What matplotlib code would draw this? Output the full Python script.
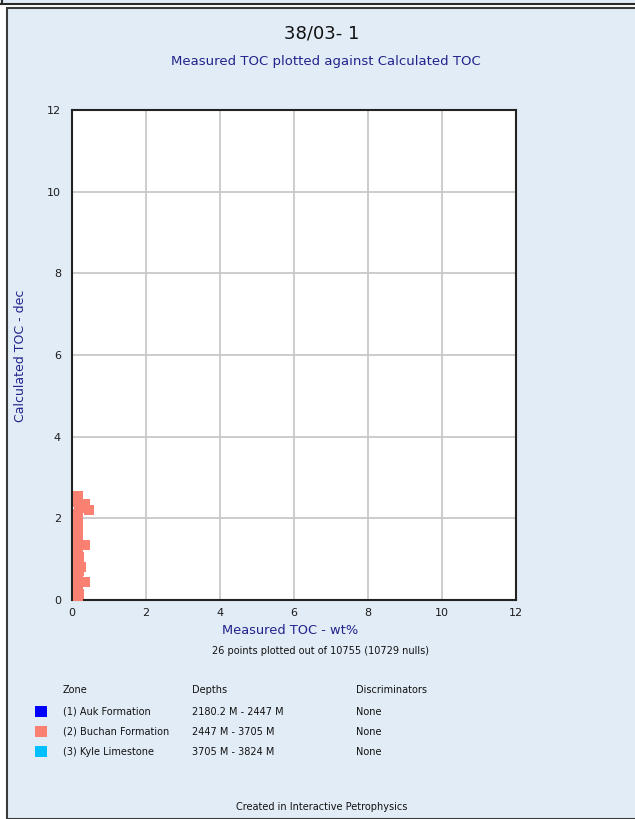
import matplotlib.pyplot as plt
from matplotlib.patches import Rectangle
from matplotlib.lines import Line2D

# data
measured_toc = [0.15, 0.15, 0.35, 0.45, 0.2, 0.15, 0.15, 0.15, 0.15, 0.15,
                0.35, 0.15, 0.15, 0.2, 0.15, 0.25, 0.2, 0.15, 0.35, 0.15,
                0.15, 0.2, 0.15, 0.15, 0.15, 0.15]
calc_toc = [2.5, 2.4, 2.35, 2.2, 2.25, 2.1, 2.0, 1.85, 1.7, 1.55,
            1.35, 1.4, 1.2, 1.05, 0.95, 0.8, 0.7, 0.6, 0.45, 0.35,
            0.25, 0.15, 0.05, 0.75, 1.25, 2.55]
ticks = [0, 2, 4, 6, 8, 10, 12]

zone_names = ['(1) Auk Formation', '(2) Buchan Formation', '(3) Kyle Limestone']
zone_depths = ['2180.2 M - 2447 M', '2447 M - 3705 M', '3705 M - 3824 M']
zone_discr = ['None', 'None', 'None']
zone_colors = ['#0000FF', '#FA8072', '#00BFFF']

W, H = 635, 819
bg = '#E2ECF6'
navy = '#23238C'

plt.rcParams['font.family'] = ['DejaVu Sans']

fig = plt.figure(figsize=(W / 100, H / 100), dpi=100)
fig.patch.set_facecolor('white')

# pixel -> figure fraction
def fx(px):
    return px / W

def fy(py):
    return 1 - py / H

# panel background and frame
fig.patches.append(Rectangle((fx(7), 0), 1 - fx(7) + 0.01, fy(8), transform=fig.transFigure,
                             facecolor=bg, edgecolor='#3a3a3a', linewidth=1.5, zorder=-2))
fig.patches.append(Rectangle((0, fy(3)), 1, fy(0) - fy(3), transform=fig.transFigure,
                             facecolor=bg, edgecolor='none', zorder=-2))
fig.lines.append(Line2D([0, 1], [fy(3.5), fy(3.5)], transform=fig.transFigure,
                        color='#2a2a2a', linewidth=1.5, zorder=-1))
fig.lines.append(Line2D([fx(1.5), fx(1.5)], [fy(3.5), 1], transform=fig.transFigure,
                        color='#2a2a2a', linewidth=1.5, zorder=-1))

ax = fig.add_axes([fx(72), fy(600), fx(516) - fx(72), fy(110) - fy(600)])
ax.set_facecolor('white')
ax.plot(measured_toc, calc_toc, 's', color='#FA8072', markersize=7, markeredgewidth=0,
        zorder=3)
ax.set_xlim(0, 12)
ax.set_ylim(0, 12)
ax.set_xticks(ticks)
ax.set_yticks(ticks)
ax.grid(True, color='#C8C8C8', linewidth=1.3)
ax.set_axisbelow(True)
for s in ax.spines.values():
    s.set_color('#222222')
    s.set_linewidth(1.5)
ax.tick_params(length=0, labelsize=8, labelcolor='#1c1c1c')
ax.tick_params(axis='y', pad=8)
ax.tick_params(axis='x', pad=6)

fig.text(fx(322), fy(33), '38/03- 1', ha='center', va='center', fontsize=13,
         color='#111111')
fig.text(fx(326), fy(62), 'Measured TOC plotted against Calculated TOC', ha='center',
         va='center', fontsize=9.5, color=navy)
fig.text(fx(21), fy(356), 'Calculated TOC - dec', rotation=90, ha='center', va='center',
         fontsize=9, color=navy)
fig.text(fx(290), fy(631), 'Measured TOC - wt%', ha='center', va='center', fontsize=9.4,
         color=navy)
fig.text(fx(320), fy(651), '26 points plotted out of 10755 (10729 nulls)', ha='center',
         va='center', fontsize=7, color='#111111')

# zone legend table
fs = 7
fig.text(fx(63), fy(690), 'Zone', va='center', fontsize=fs, color='#111111')
fig.text(fx(192), fy(690), 'Depths', va='center', fontsize=fs, color='#111111')
fig.text(fx(356), fy(690), 'Discriminators', va='center', fontsize=fs, color='#111111')
for i in range(len(zone_names)):
    y = 712 + 20 * i
    fig.patches.append(Rectangle((fx(35), fy(y + 5)), fx(12), fy(0) - fy(11),
                                 transform=fig.transFigure, facecolor=zone_colors[i],
                                 edgecolor='none'))
    fig.text(fx(63), fy(y), zone_names[i], va='center', fontsize=fs, color='#111111')
    fig.text(fx(192), fy(y), zone_depths[i], va='center', fontsize=fs, color='#111111')
    fig.text(fx(356), fy(y), zone_discr[i], va='center', fontsize=fs, color='#111111')

fig.text(fx(322), fy(807), 'Created in Interactive Petrophysics', ha='center', va='center',
         fontsize=7, color='#111111')

fig.savefig('out.png', dpi=100, facecolor=fig.get_facecolor())
